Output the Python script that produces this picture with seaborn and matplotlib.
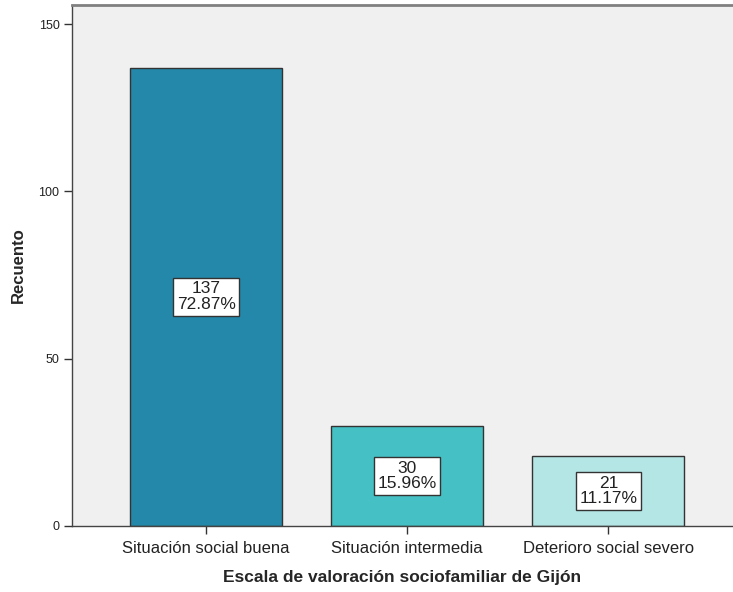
import matplotlib
matplotlib.use("Agg")
import matplotlib.pyplot as plt
import seaborn as sns
import pandas as pd

# Datos del gráfico (recuentos por categoría)
categorias = ["Situación social buena", "Situación intermedia", "Deterioro social severo"]
recuentos = [137, 30, 21]
colores = ["#2388a9", "#45c0c4", "#b4e6e6"]

total = sum(recuentos)
df = pd.DataFrame({"categoria": categorias, "recuento": recuentos})

sns.set_style("white")
plt.rcParams["font.family"] = ["Liberation Sans", "DejaVu Sans"]

fig = plt.figure(figsize=(7.33, 5.92), dpi=100)
ax = fig.add_axes([72 / 733, 66 / 592, 661 / 733, 521 / 592])
ax.set_facecolor("#f0f0f0")

sns.barplot(data=df, x="categoria", y="recuento", hue="categoria",
            palette=colores, saturation=1, legend=False, width=0.756,
            edgecolor="#333333", linewidth=1, ax=ax)

# Etiquetas con recuento y porcentaje en el centro de cada barra
for i, n in enumerate(recuentos):
    ax.text(i, n / 2, f"{n}\n{n / total * 100:.2f}%", ha="center", va="center",
            fontsize=12.5, color="#222222", linespacing=1.05,
            bbox=dict(boxstyle="square,pad=0.2", facecolor="white",
                      edgecolor="#333333", linewidth=1))

ax.set_xlim(-0.667, 2.62)
ax.set_ylim(0, 155.7)
ax.set_yticks([0, 50, 100, 150])
ax.tick_params(axis="y", direction="out", length=6, width=1, color="#333333",
               labelsize=9, labelcolor="#222222", left=True, pad=3)
ax.tick_params(axis="x", direction="out", length=6, width=1, color="#333333",
               labelsize=12, labelcolor="#222222", bottom=True, pad=5)

for s in ["left", "bottom"]:
    ax.spines[s].set_color("#444444")
    ax.spines[s].set_linewidth(1)
ax.spines["top"].set_color("#808080")
ax.spines["top"].set_linewidth(2)
ax.spines["right"].set_visible(False)

ax.set_xlabel("Escala de valoración sociofamiliar de Gijón", fontsize=12.5,
              fontweight="bold", labelpad=10)
ax.set_ylabel("Recuento", fontsize=12, fontweight="bold", labelpad=9)

plt.savefig("out.png", dpi=100)
plt.close()
